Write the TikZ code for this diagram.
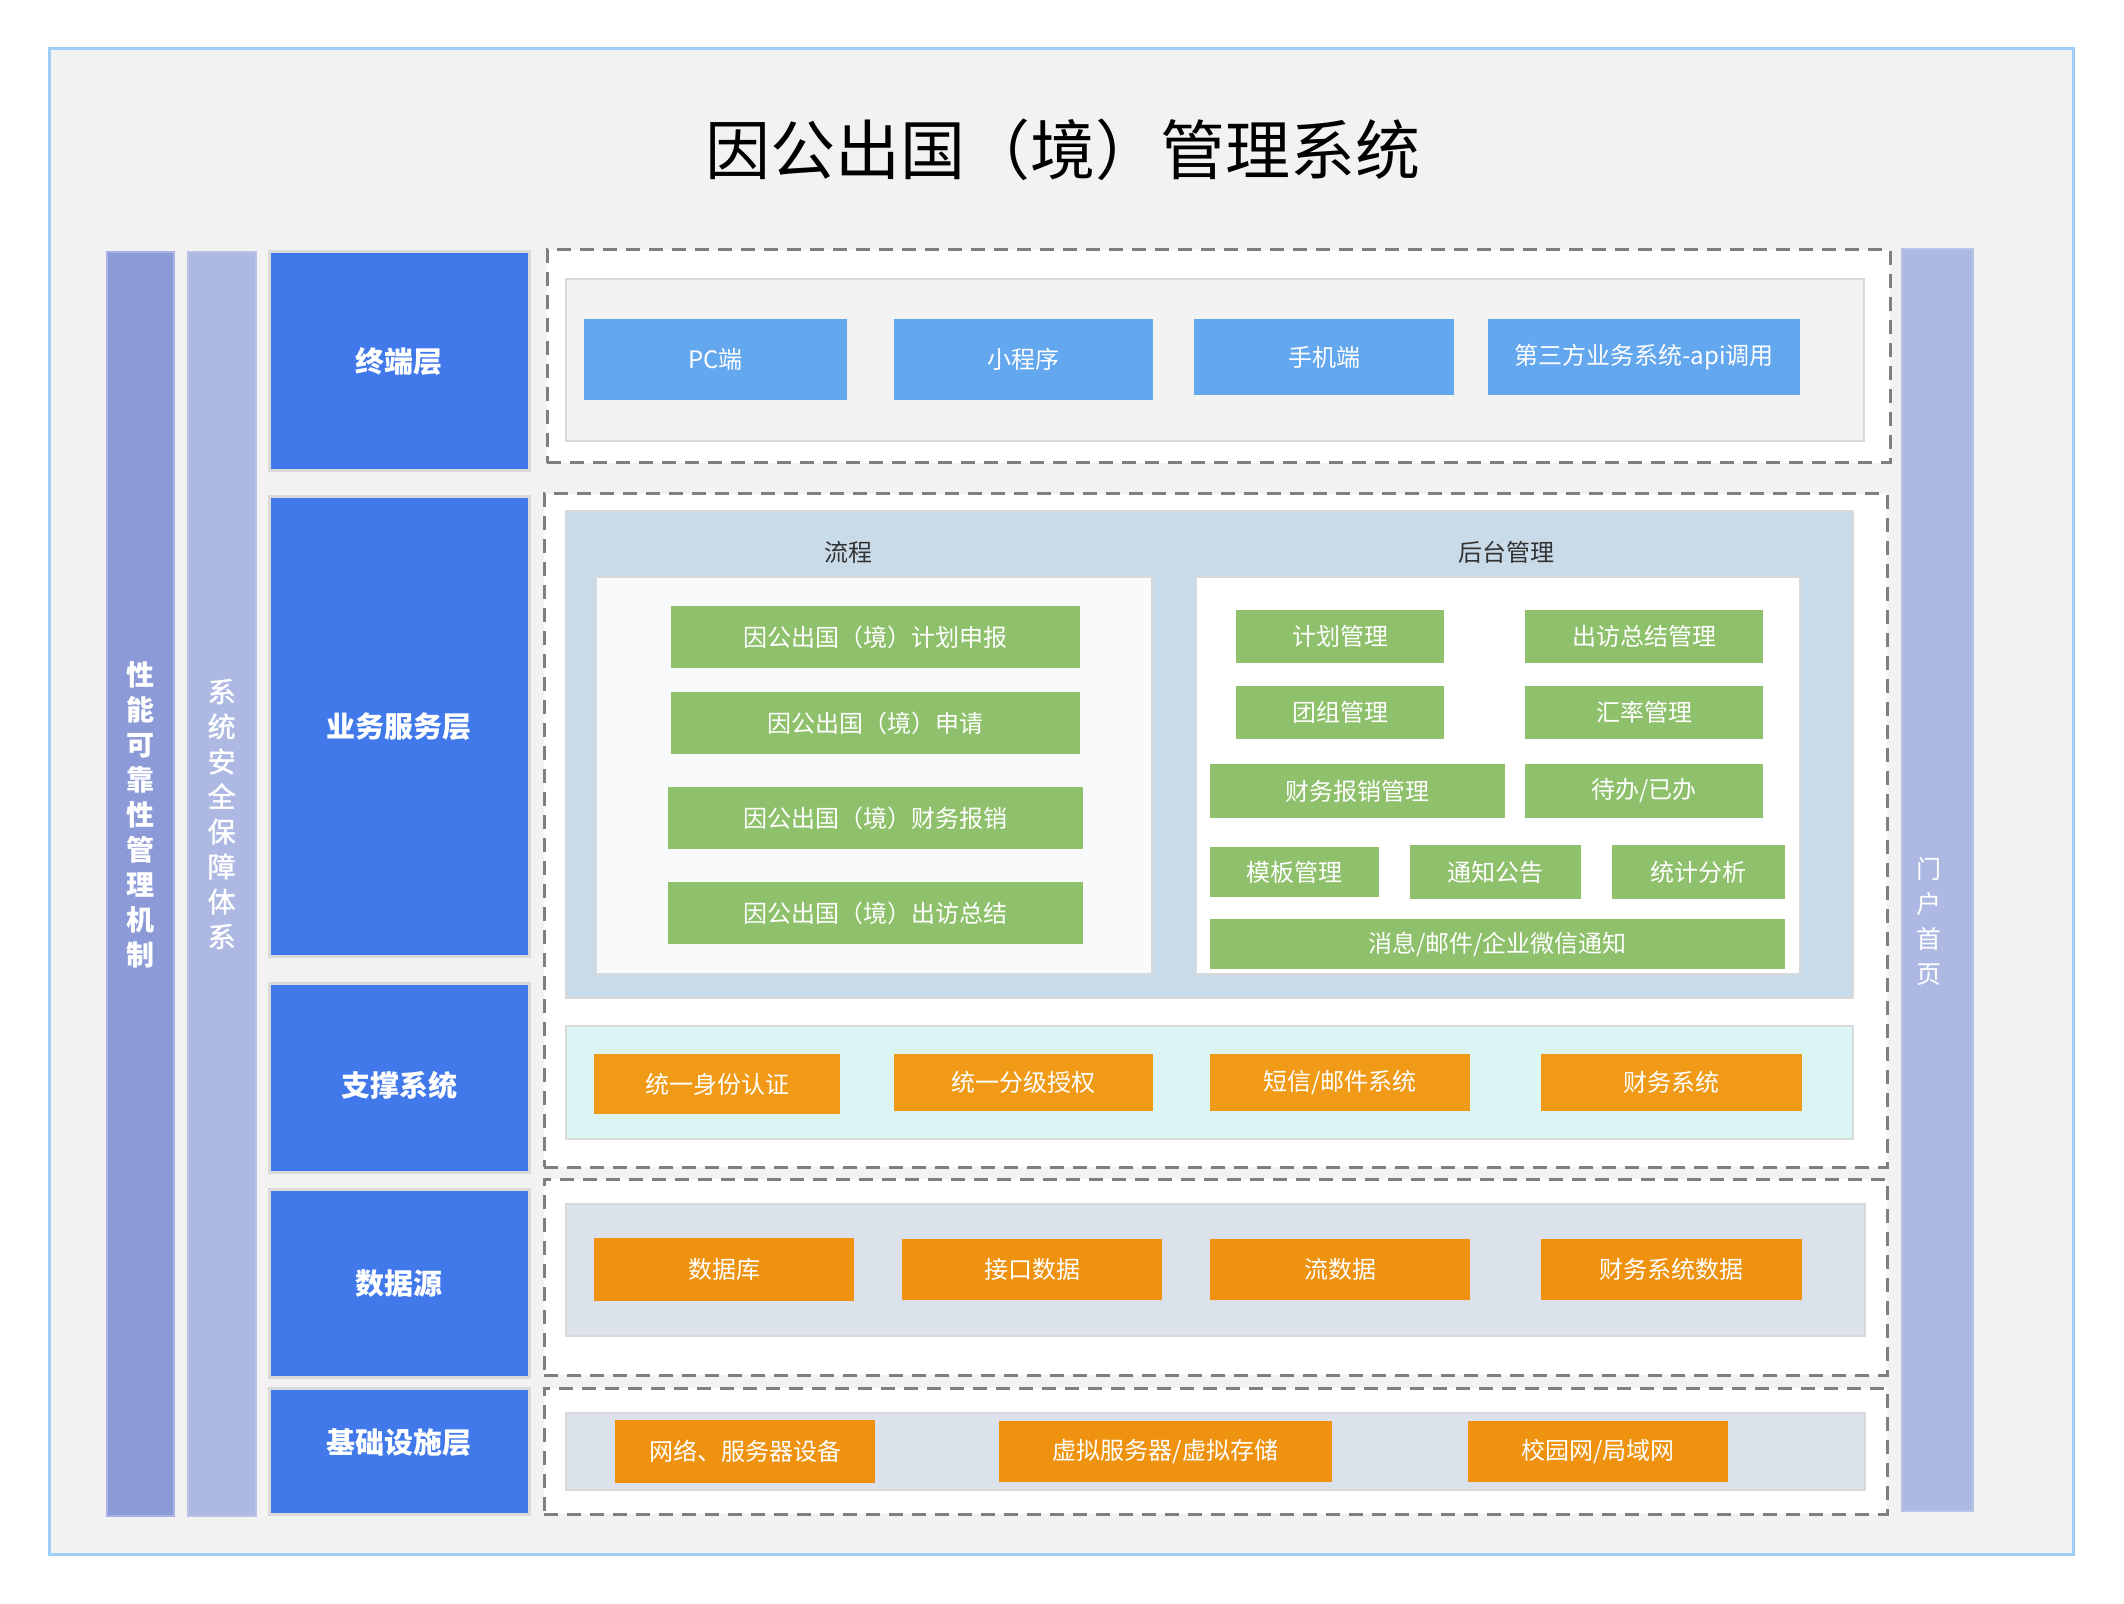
\documentclass[tikz,border=0pt]{standalone}
\usepackage{fontspec}
\setmainfont{Noto Sans CJK SC}
\newfontfamily\semibfont{Noto Sans CJK SC}[FakeBold=1.2]
\definecolor{bgc}{HTML}{F2F2F2}
\definecolor{framec}{HTML}{9DCEF8}
\definecolor{colA}{HTML}{8C9BD7}
\definecolor{colAb}{HTML}{A7B4E5}
\definecolor{colB}{HTML}{ADB9E3}
\definecolor{colBb}{HTML}{B9C3E8}
\definecolor{bluec}{HTML}{4279EA}
\definecolor{grayb}{HTML}{D9D9D9}
\definecolor{dashc}{HTML}{7F7F7F}
\definecolor{tblue}{HTML}{63A7EF}
\definecolor{greenc}{HTML}{8FC16C}
\definecolor{orangeA}{HTML}{F09A17}
\definecolor{orangeB}{HTML}{EE9210}
\definecolor{panelB}{HTML}{C9DAE8}
\definecolor{panelW}{HTML}{F9FAFC}
\definecolor{panelC}{HTML}{DBF4F4}
\definecolor{panelD}{HTML}{DCE2EC}
\definecolor{darkt}{HTML}{333333}
\newcommand\mybox[7]{%
  \pgfmathsetmacro\bxc{(#3+#5)/2}%
  \pgfmathsetmacro\byc{(#4+#6)/2}%
  \pgfmathsetmacro\bww{(#5-#3)/2}%
  \pgfmathsetmacro\bhh{(#6-#4)/2}%
  \node[#1, minimum width=\bww pt, minimum height=\bhh pt] (#2) at (\bxc,\byc) {#7};}
\begin{document}
\begin{tikzpicture}[x=0.5pt,y=-0.5pt,
  every node/.style={inner sep=0pt, outer sep=0pt, text=white, font=\fontsize{12}{14}\selectfont},
  frame/.style={fill=bgc, draw=framec, line width=1.5pt},
  colone/.style={fill=colA, draw=colAb, line width=1.2pt},
  coltwo/.style={fill=colB, draw=colBb, line width=1.2pt},
  lay/.style={fill=bluec, draw=grayb, line width=1.5pt},
  laytext/.style={font=\fontsize{14.5}{17}\selectfont\bfseries},
  dbox/.style={fill=white, draw=dashc, line width=1.5pt, dash pattern=on 7pt off 4.5pt},
  paneltone/.style={draw=grayb, line width=1.3pt},
  tbox/.style={fill=tblue},
  gbox/.style={fill=greenc},
  obox/.style={fill=orangeA},
  pbox/.style={fill=orangeB},
  vtext/.style={align=center, font=\fontsize{14}{17.5}\selectfont},
  hdr/.style={text=darkt, font=\fontsize{12}{14}\selectfont}
]
\useasboundingbox (0,0) rectangle (2124,1604);
\fill[white] (0,0) rectangle (2124,1604);
\mybox{frame}{frame}{49}{49}{2073}{1554}{}
\node[text=black, font=\fontsize{32.5}{36}\selectfont] (title) at (1063,150) {因公出国（境）管理系统};

% side columns
\mybox{colone}{c1}{107}{252}{174}{1516}{}
\node[vtext, font=\fontsize{14}{17.5}\selectfont\bfseries] (c1t) at (140.5,815) {性\\能\\可\\靠\\性\\管\\理\\机\\制};
\mybox{coltwo}{c2}{188}{252}{256}{1516}{}
\node[vtext, font=\fontsize{14}{17.5}\semibfont] (c2t) at (221.7,814) {系\\统\\安\\全\\保\\障\\体\\系};
\mybox{coltwo}{c3}{1902}{249}{1973}{1511}{}
\node[vtext, font=\fontsize{12.5}{17.5}\selectfont] (c3t) at (1929,922) {门\\户\\首\\页};

% layer labels
\mybox{lay}{L1}{269}{252}{529}{471}{}
\node[laytext] (L1t) at (L1.center) {终端层};
\mybox{lay}{L2}{269}{497}{529}{956}{}
\node[laytext] (L2t) at (L2.center) {业务服务层};
\mybox{lay}{L3}{269}{983}{529}{1172}{}
\node[laytext] (L3t) at ([yshift=-4pt]L3.center) {支撑系统};
\mybox{lay}{L4}{269}{1189}{529}{1377}{}
\node[laytext] (L4t) at ([yshift=-0.5pt]L4.center) {数据源};
\mybox{lay}{L5}{269}{1388}{529}{1514}{}
\node[laytext] (L5t) at ([yshift=4pt]L5.center) {基础设施层};

% dashed containers
\mybox{dbox}{D1}{547}{250}{1890}{463}{}
\mybox{dbox}{D2}{544}{494}{1887}{1167}{}
\mybox{dbox}{D3}{544}{1179}{1887}{1375}{}
\mybox{dbox}{D4}{544}{1388}{1887}{1514}{}

% terminal layer
\mybox{paneltone, fill=bgc}{P1}{566}{279}{1864}{441}{}
\mybox{tbox}{t1}{584}{319}{847}{400}{PC端}
\mybox{tbox}{t2}{894}{319}{1153}{400}{小程序}
\mybox{tbox}{t3}{1194}{319}{1454}{395}{手机端}
\mybox{tbox}{t4}{1488}{319}{1800}{395}{第三方业务系统-api调用}

% business layer
\mybox{paneltone, fill=panelB}{P2}{566}{511}{1853}{998}{}
\node[hdr] (hflow) at (848,552) {流程};
\node[hdr] (hadmin) at (1506,552) {后台管理};
\mybox{paneltone, fill=panelW}{P2a}{596}{577}{1152}{974}{}
\mybox{paneltone, fill=white}{P2b}{1196}{577}{1800}{974}{}
\mybox{gbox}{g1}{671}{606}{1080}{668}{因公出国（境）计划申报}
\mybox{gbox}{g2}{671}{692}{1080}{754}{因公出国（境）申请}
\mybox{gbox}{g3}{668}{787}{1083}{849}{因公出国（境）财务报销}
\mybox{gbox}{g4}{668}{882}{1083}{944}{因公出国（境）出访总结}
\mybox{gbox}{h1}{1236}{610}{1444}{663}{计划管理}
\mybox{gbox}{h2}{1525}{610}{1763}{663}{出访总结管理}
\mybox{gbox}{h3}{1236}{686}{1444}{739}{团组管理}
\mybox{gbox}{h4}{1525}{686}{1763}{739}{汇率管理}
\mybox{gbox}{h5}{1210}{764}{1505}{818}{财务报销管理}
\mybox{gbox}{h6}{1525}{764}{1763}{818}{待办/已办}
\mybox{gbox}{h7}{1210}{847}{1379}{897}{模板管理}
\mybox{gbox}{h8}{1410}{845}{1581}{899}{通知公告}
\mybox{gbox}{h9}{1612}{845}{1785}{899}{统计分析}
\mybox{gbox}{h10}{1210}{919}{1785}{969}{消息/邮件/企业微信通知}

% support layer
\mybox{paneltone, fill=panelC}{P3}{566}{1026}{1853}{1139}{}
\mybox{obox}{s1}{594}{1054}{840}{1114}{统一身份认证}
\mybox{obox}{s2}{894}{1054}{1153}{1111}{统一分级授权}
\mybox{obox}{s3}{1210}{1054}{1470}{1111}{短信/邮件系统}
\mybox{obox}{s4}{1541}{1054}{1802}{1111}{财务系统}

% data layer
\mybox{paneltone, fill=panelD}{P4}{566}{1204}{1865}{1336}{}
\mybox{pbox}{e1}{594}{1238}{854}{1301}{数据库}
\mybox{pbox}{e2}{902}{1239}{1162}{1300}{接口数据}
\mybox{pbox}{e3}{1210}{1239}{1470}{1300}{流数据}
\mybox{pbox}{e4}{1541}{1239}{1802}{1300}{财务系统数据}

% infrastructure layer
\mybox{paneltone, fill=panelD}{P5}{566}{1413}{1865}{1490}{}
\mybox{pbox}{f1}{615}{1420}{875}{1483}{网络、服务器设备}
\mybox{pbox}{f2}{999}{1421}{1332}{1482}{虚拟服务器/虚拟存储}
\mybox{pbox}{f3}{1468}{1421}{1728}{1482}{校园网/局域网}
\end{tikzpicture}
\end{document}
